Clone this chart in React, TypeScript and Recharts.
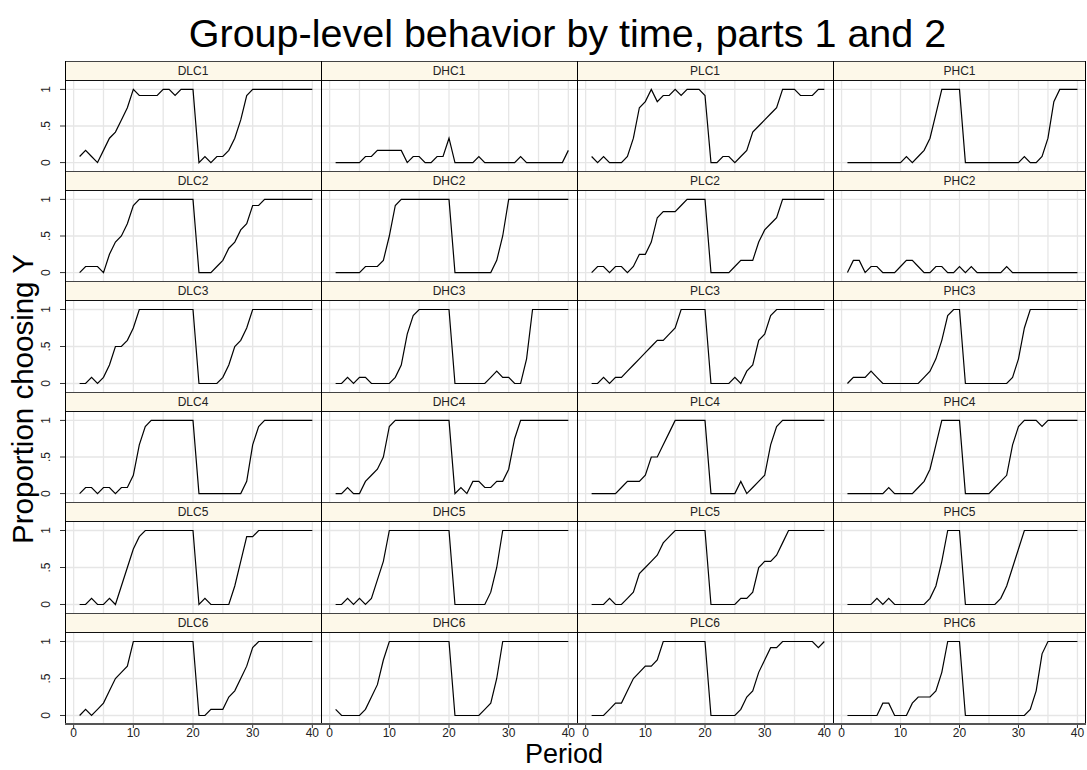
import { LineChart, Line, XAxis, YAxis, CartesianGrid } from "recharts";

const periods = [
  1, 2, 3, 4, 5, 6, 7, 8, 9, 10, 11, 12, 13, 14, 15, 16, 17, 18, 19, 20,
  21, 22, 23, 24, 25, 26, 27, 28, 29, 30, 31, 32, 33, 34, 35, 36, 37, 38, 39, 40,
];

// proportion choosing Y, periods 1..40
const dlc1 = [.083, .167, .083, 0, .167, .333, .417, .583, .75, 1, .917, .917, .917, .917, 1, 1, .917, 1, 1, 1, 0, .083, 0, .083, .083, .167, .333, .583, .917, 1, 1, 1, 1, 1, 1, 1, 1, 1, 1, 1];
const dhc1 = [0, 0, 0, 0, 0, .083, .083, .167, .167, .167, .167, .167, 0, .083, .083, 0, 0, .083, .083, .333, 0, 0, 0, 0, .083, 0, 0, 0, 0, 0, 0, .083, 0, 0, 0, 0, 0, 0, 0, .167];
const plc1 = [.083, 0, .083, 0, 0, 0, .083, .333, .75, .833, 1, .833, .917, .917, 1, .917, 1, 1, 1, .917, 0, 0, .083, .083, 0, .083, .167, .417, .5, .583, .667, .75, 1, 1, 1, .917, .917, .917, 1, 1];
const phc1 = [0, 0, 0, 0, 0, 0, 0, 0, 0, 0, .083, 0, .083, .167, .333, .667, 1, 1, 1, 1, 0, 0, 0, 0, 0, 0, 0, 0, 0, 0, .083, 0, 0, .083, .333, .833, 1, 1, 1, 1];

const dlc2 = [0, .083, .083, .083, 0, .25, .417, .5, .667, .917, 1, 1, 1, 1, 1, 1, 1, 1, 1, 1, 0, 0, 0, .083, .167, .333, .417, .583, .667, .917, .917, 1, 1, 1, 1, 1, 1, 1, 1, 1];
const dhc2 = [0, 0, 0, 0, 0, .083, .083, .083, .167, .5, .917, 1, 1, 1, 1, 1, 1, 1, 1, 1, 0, 0, 0, 0, 0, 0, 0, .167, .5, 1, 1, 1, 1, 1, 1, 1, 1, 1, 1, 1];
const plc2 = [0, .083, .083, 0, .083, .083, 0, .083, .25, .25, .417, .75, .833, .833, .833, .917, 1, 1, 1, 1, 0, 0, 0, 0, .083, .167, .167, .167, .417, .583, .667, .75, 1, 1, 1, 1, 1, 1, 1, 1];
const phc2 = [0, .167, .167, 0, .083, .083, 0, 0, 0, .083, .167, .167, .083, 0, 0, .083, .083, 0, 0, .083, 0, .083, 0, 0, 0, 0, 0, .083, 0, 0, 0, 0, 0, 0, 0, 0, 0, 0, 0, 0];

const dlc3 = [0, 0, .083, 0, .083, .25, .5, .5, .583, .75, 1, 1, 1, 1, 1, 1, 1, 1, 1, 1, 0, 0, 0, 0, .083, .25, .5, .583, .75, 1, 1, 1, 1, 1, 1, 1, 1, 1, 1, 1];
const dhc3 = [0, 0, .083, 0, .083, .083, 0, 0, 0, 0, .083, .25, .667, .917, 1, 1, 1, 1, 1, 1, 0, 0, 0, 0, 0, 0, .083, .167, .083, .083, 0, 0, .333, 1, 1, 1, 1, 1, 1, 1];
const plc3 = [0, 0, .083, 0, .083, .083, .167, .25, .333, .417, .5, .583, .583, .667, .75, 1, 1, 1, 1, 1, 0, 0, 0, 0, .083, 0, .167, .25, .583, .667, .917, 1, 1, 1, 1, 1, 1, 1, 1, 1];
const phc3 = [0, .083, .083, .083, .167, .083, 0, 0, 0, 0, 0, 0, 0, .083, .167, .333, .583, .917, 1, 1, 0, 0, 0, 0, 0, 0, 0, 0, .083, .333, .75, 1, 1, 1, 1, 1, 1, 1, 1, 1];

const dlc4 = [0, .083, .083, 0, .083, .083, 0, .083, .083, .25, .667, .917, 1, 1, 1, 1, 1, 1, 1, 1, 0, 0, 0, 0, 0, 0, 0, 0, .167, .667, .917, 1, 1, 1, 1, 1, 1, 1, 1, 1];
const dhc4 = [0, 0, .083, 0, 0, .167, .25, .333, .5, .917, 1, 1, 1, 1, 1, 1, 1, 1, 1, 1, 0, .083, 0, .167, .167, .083, .083, .167, .167, .333, .75, 1, 1, 1, 1, 1, 1, 1, 1, 1];
const plc4 = [0, 0, 0, 0, 0, .083, .167, .167, .167, .25, .5, .5, .667, .833, 1, 1, 1, 1, 1, 1, 0, 0, 0, 0, 0, .167, 0, .083, .167, .25, .667, .917, 1, 1, 1, 1, 1, 1, 1, 1];
const phc4 = [0, 0, 0, 0, 0, 0, 0, .083, 0, 0, 0, 0, .083, .167, .333, .667, 1, 1, 1, 1, 0, 0, 0, 0, 0, .083, .167, .25, .667, .917, 1, 1, 1, .917, 1, 1, 1, 1, 1, 1];

const dlc5 = [0, 0, .083, 0, 0, .083, 0, .25, .5, .75, .917, 1, 1, 1, 1, 1, 1, 1, 1, 1, 0, .083, 0, 0, 0, 0, .25, .583, .917, .917, 1, 1, 1, 1, 1, 1, 1, 1, 1, 1];
const dhc5 = [0, 0, .083, 0, .083, 0, .083, .333, .583, 1, 1, 1, 1, 1, 1, 1, 1, 1, 1, 1, 0, 0, 0, 0, 0, 0, .167, .5, 1, 1, 1, 1, 1, 1, 1, 1, 1, 1, 1, 1];
const plc5 = [0, 0, 0, .083, 0, 0, .083, .167, .417, .5, .583, .667, .833, .917, 1, 1, 1, 1, 1, 1, 0, 0, 0, 0, 0, .083, .083, .167, .5, .583, .583, .667, .833, 1, 1, 1, 1, 1, 1, 1];
const phc5 = [0, 0, 0, 0, 0, .083, 0, .083, 0, 0, 0, 0, 0, 0, .083, .25, .583, 1, 1, 1, 0, 0, 0, 0, 0, 0, .083, .25, .5, .75, 1, 1, 1, 1, 1, 1, 1, 1, 1, 1];

const dlc6 = [0, .083, 0, .083, .167, .333, .5, .583, .667, 1, 1, 1, 1, 1, 1, 1, 1, 1, 1, 1, 0, 0, .083, .083, .083, .25, .333, .5, .667, .917, 1, 1, 1, 1, 1, 1, 1, 1, 1, 1];
const dhc6 = [.083, 0, 0, 0, 0, .083, .25, .417, .75, 1, 1, 1, 1, 1, 1, 1, 1, 1, 1, 1, 0, 0, 0, 0, 0, .083, .167, .5, 1, 1, 1, 1, 1, 1, 1, 1, 1, 1, 1, 1];
const plc6 = [0, 0, 0, .083, .167, .167, .333, .5, .583, .667, .667, .75, 1, 1, 1, 1, 1, 1, 1, 1, 0, 0, 0, 0, 0, .083, .25, .333, .583, .75, .917, .917, 1, 1, 1, 1, 1, 1, .917, 1];
const phc6 = [0, 0, 0, 0, 0, 0, .167, .167, 0, 0, 0, .167, .25, .25, .25, .333, .583, 1, 1, 1, 0, 0, 0, 0, 0, 0, 0, 0, 0, 0, 0, .083, .333, .833, 1, 1, 1, 1, 1, 1];

const rows = [
  [["DLC1", dlc1], ["DHC1", dhc1], ["PLC1", plc1], ["PHC1", phc1]],
  [["DLC2", dlc2], ["DHC2", dhc2], ["PLC2", plc2], ["PHC2", phc2]],
  [["DLC3", dlc3], ["DHC3", dhc3], ["PLC3", plc3], ["PHC3", phc3]],
  [["DLC4", dlc4], ["DHC4", dhc4], ["PLC4", plc4], ["PHC4", phc4]],
  [["DLC5", dlc5], ["DHC5", dhc5], ["PLC5", plc5], ["PHC5", phc5]],
  [["DLC6", dlc6], ["DHC6", dhc6], ["PLC6", plc6], ["PHC6", phc6]],
] as [string, number[]][][];

const xTicks = [0, 10, 20, 30, 40];
const yTicks = [0, 0.5, 1];
const yTickLabels: Record<string, string> = { "0": "0", "0.5": ".5", "1": "1" };
const xGrid = [0, 5, 10, 15, 20, 25, 30, 35, 40];

const FONT = '"Liberation Sans", Arial, Helvetica, sans-serif';
const COL_LEFTS = [65, 321, 577, 833];
const COL_WIDTHS = [256, 256, 256, 253];
const ROW_TOPS = [61, 171, 281, 392, 502, 613];
const GRID_BOTTOM = 724;
const STRIP_H = 20;
const Y_AXIS_W = 30;
const X_AXIS_H = 20;
const STRIP_BG = "#fdf8e9";

function YTick(props: any) {
  const { x, y, payload } = props;
  return (
    <text
      x={x}
      y={y}
      transform={`rotate(-90 ${x} ${y})`}
      textAnchor="middle"
      fontSize={12}
      fontFamily={FONT}
      fill="#222"
    >
      {yTickLabels[String(payload.value)]}
    </text>
  );
}

function Panel({ name, values, col, row }: { name: string; values: number[]; col: number; row: number }) {
  const left = COL_LEFTS[col];
  const width = COL_WIDTHS[col];
  const top = ROW_TOPS[row];
  const bottom = row < ROW_TOPS.length - 1 ? ROW_TOPS[row + 1] : GRID_BOTTOM;
  const plotH = bottom - top - STRIP_H;
  const isLeft = col === 0;
  const isBottom = row === ROW_TOPS.length - 1;
  const data = periods.map((p, i) => ({ period: p, value: values[i] }));
  return (
    <>
      <div
        style={{
          position: "absolute",
          left,
          top,
          width,
          height: STRIP_H,
          boxSizing: "border-box",
          background: STRIP_BG,
          borderTop: "1px solid #444",
          borderBottom: "1px solid #111",
          fontSize: 12,
          lineHeight: `${STRIP_H - 2}px`,
          textAlign: "center",
          color: "#222",
        }}
      >
        {name}
      </div>
      <div style={{ position: "absolute", left: left - (isLeft ? Y_AXIS_W : 0), top: top + STRIP_H }}>
        <LineChart
          width={width + (isLeft ? Y_AXIS_W : 0)}
          height={plotH + (isBottom ? X_AXIS_H : 0)}
          data={data}
          margin={{ top: 0, right: 0, bottom: 0, left: 0 }}
        >
          <CartesianGrid stroke="#e6e6e6" strokeWidth={1.3} horizontalValues={yTicks} verticalValues={xGrid} />
          <XAxis
            type="number"
            dataKey="period"
            domain={[-1.45, 41.45]}
            ticks={xTicks}
            interval={0}
            hide={!isBottom}
            height={X_AXIS_H}
            axisLine={false}
            tickLine={{ stroke: "#333" }}
            tickSize={4}
            tickMargin={0}
            tick={{ fontSize: 12, fill: "#222", fontFamily: FONT }}
          />
          <YAxis
            type="number"
            domain={[-0.115, 1.115]}
            ticks={yTicks}
            interval={0}
            hide={!isLeft}
            width={Y_AXIS_W}
            axisLine={false}
            tickLine={{ stroke: "#333" }}
            tickSize={5}
            tickMargin={10}
            tick={<YTick />}
          />
          <Line
            type="linear"
            dataKey="value"
            stroke="#000"
            strokeWidth={1.2}
            dot={false}
            isAnimationActive={false}
          />
        </LineChart>
      </div>
    </>
  );
}

export default function App() {
  const separators = [...COL_LEFTS, COL_LEFTS[3] + COL_WIDTHS[3]];
  return (
    <div
      style={{
        position: "absolute",
        left: 0,
        top: 0,
        width: 1087,
        height: 770,
        background: "#fff",
        fontFamily: FONT,
        overflow: "hidden",
      }}
    >
      <div
        style={{
          position: "absolute",
          left: 0,
          top: 13,
          width: 1135,
          textAlign: "center",
          fontSize: 39.5,
          lineHeight: "40px",
          color: "#000",
        }}
      >
        Group-level behavior by time, parts 1 and 2
      </div>
      <div
        style={{
          position: "absolute",
          left: 23 - 250,
          top: 399 - 18,
          width: 500,
          height: 36,
          lineHeight: "36px",
          textAlign: "center",
          fontSize: 29.5,
          transform: "rotate(-90deg)",
          color: "#000",
        }}
      >
        Proportion choosing Y
      </div>
      <div
        style={{
          position: "absolute",
          left: 564 - 100,
          top: 741,
          width: 200,
          textAlign: "center",
          fontSize: 27,
          lineHeight: "27px",
          color: "#000",
        }}
      >
        Period
      </div>
      {rows.map((r, ri) =>
        r.map(([name, values], ci) => (
          <Panel key={name} name={name} values={values} col={ci} row={ri} />
        ))
      )}
      {separators.map((x, i) => (
        <div
          key={i}
          style={{
            position: "absolute",
            left: x - (i === separators.length - 1 ? 1 : 0),
            top: ROW_TOPS[0],
            width: 1,
            height: GRID_BOTTOM - ROW_TOPS[0],
            background: "#000",
          }}
        />
      ))}
      <div
        style={{
          position: "absolute",
          left: COL_LEFTS[0],
          top: GRID_BOTTOM - 1,
          width: separators[4] - COL_LEFTS[0],
          height: 2,
          background: "#555",
        }}
      />
    </div>
  );
}
